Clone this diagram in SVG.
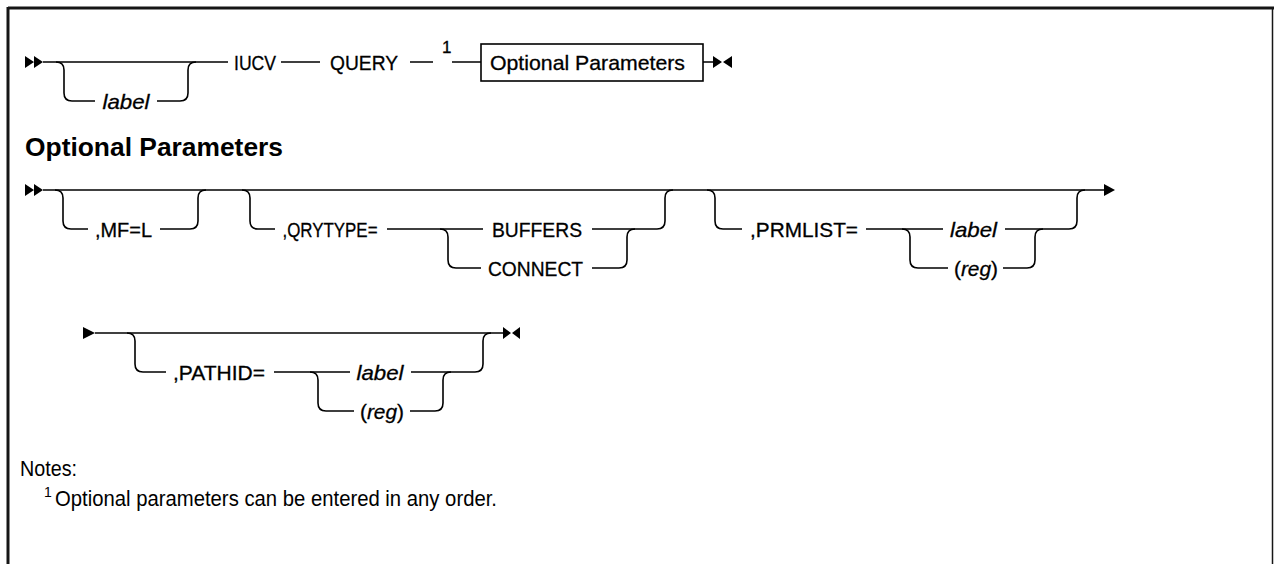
<svg xmlns="http://www.w3.org/2000/svg" width="1274" height="564" viewBox="0 0 1274 564">
<defs>
<style>
.l{fill:none;stroke:#000;stroke-width:1.6}
.a{fill:#000;stroke:none}
.t{font-family:"Liberation Sans",Arial,sans-serif;font-size:21px;fill:#000;stroke:#000;stroke-width:0.3;text-anchor:middle}
.i{font-style:italic}
.h{font-family:"Liberation Sans",Arial,sans-serif;font-size:25px;font-weight:bold;fill:#000}
.n{font-family:"Liberation Sans",Arial,sans-serif;font-size:21.5px;fill:#000}
.s{font-family:"Liberation Sans",Arial,sans-serif;font-size:14px;fill:#000}
.sr{font-family:"Liberation Sans",Arial,sans-serif;font-size:17px;fill:#000;stroke:#000;stroke-width:0.3}
</style>
</defs>
<g id="frame">
<path d="M8,8 H1274" stroke="#161616" stroke-width="3" fill="none"/>
<path d="M8,7 V564" stroke="#161616" stroke-width="3" fill="none"/>
<path d="M1272.5,8 V564" stroke="#161616" stroke-width="1.5" fill="none"/>
</g>
<g id="connectors">
<!-- row 1 -->
<path class="l" d="M43,62 H228 M281,62 H320 M410,62 H433 M452,62 H481 M703,62 H713"/>
<path class="l" d="M56,62 q8,0 8,8 V93 q0,8 8,8 H95 M157,101 H180 q8,0 8,-8 V70 q0,-8 8,-8"/>
<!-- row 2 -->
<path class="l" d="M43,190 H1106"/>
<path class="l" d="M55,190 q8,0 8,8 V221 q0,8 8,8 H88 M160,229 H190 q8,0 8,-8 V198 q0,-8 8,-8"/>
<path class="l" d="M242,190 q8,0 8,8 V221 q0,8 8,8 H275 M387,229 H483 M592,229 H657 q8,0 8,-8 V198 q0,-8 8,-8"/>
<path class="l" d="M440,229 q8,0 8,8 V260 q0,8 8,8 H481 M592,268 H619 q8,0 8,-8 V237 q0,-8 8,-8"/>
<path class="l" d="M707,190 q8,0 8,8 V221 q0,8 8,8 H742 M866,229 H943 M1005,229 H1069 q8,0 8,-8 V198 q0,-8 8,-8"/>
<path class="l" d="M902,229 q8,0 8,8 V260 q0,8 8,8 H948 M1003,268 H1027 q8,0 8,-8 V237 q0,-8 8,-8"/>
<!-- row 3 -->
<path class="l" d="M95,333 H503"/>
<path class="l" d="M127,333 q8,0 8,8 V364 q0,8 8,8 H166 M274,372 H350 M411,372 H475 q8,0 8,-8 V341 q0,-8 8,-8"/>
<path class="l" d="M310,372 q8,0 8,8 V403 q0,8 8,8 H354 M410,411 H435 q8,0 8,-8 V380 q0,-8 8,-8"/>
</g>
<g id="markers">
<path class="a" d="M25,56 L34,62 L25,68 Z M34,56 L43,62 L34,68 Z"/>
<path class="a" d="M713,56 L722,62 L713,68 Z M732,56 L723,62 L732,68 Z"/>
<path class="a" d="M25,184 L34,190 L25,196 Z M34,184 L43,190 L34,196 Z"/>
<path class="a" d="M1104,184 L1115,190 L1104,196 Z"/>
<path class="a" d="M83,327 L95,333 L83,339 Z"/>
<path class="a" d="M503,327 L511,333 L503,339 Z M520,327 L512,333 L520,339 Z"/>
</g>
<g id="n-label1"><text class="t i" x="126" y="108.5" textLength="47" lengthAdjust="spacingAndGlyphs">label</text></g>
<g id="n-iucv"><text class="t" x="255" y="69.5" textLength="42" lengthAdjust="spacingAndGlyphs">IUCV</text></g>
<g id="n-query"><text class="t" x="364" y="69.5" textLength="68" lengthAdjust="spacingAndGlyphs">QUERY</text></g>
<g id="n-note-ref"><text class="sr" x="442" y="53">1</text></g>
<g id="n-optparms">
<rect x="481" y="44" width="222" height="37" fill="#fff" stroke="#000" stroke-width="1.6"/>
<text class="t" x="587.5" y="69.5" textLength="195" lengthAdjust="spacingAndGlyphs">Optional Parameters</text>
</g>
<g id="heading"><text class="h" x="25" y="156" textLength="258" lengthAdjust="spacingAndGlyphs">Optional Parameters</text></g>
<g id="n-mf"><text class="t" x="123.5" y="236.5" textLength="57" lengthAdjust="spacingAndGlyphs">,MF=L</text></g>
<g id="n-qrytype"><text class="t" x="330" y="236.5" textLength="95" lengthAdjust="spacingAndGlyphs">,QRYTYPE=</text></g>
<g id="n-buffers"><text class="t" x="537" y="236.5" textLength="90" lengthAdjust="spacingAndGlyphs">BUFFERS</text></g>
<g id="n-connect"><text class="t" x="535.5" y="275.5" textLength="95" lengthAdjust="spacingAndGlyphs">CONNECT</text></g>
<g id="n-prmlist"><text class="t" x="804" y="236.5" textLength="108" lengthAdjust="spacingAndGlyphs">,PRMLIST=</text></g>
<g id="n-label2"><text class="t i" x="973.5" y="236.5" textLength="47" lengthAdjust="spacingAndGlyphs">label</text></g>
<g id="n-reg2"><text class="t" x="976" y="275.5" textLength="44" lengthAdjust="spacingAndGlyphs">(<tspan class="i">reg</tspan>)</text></g>
<g id="n-pathid"><text class="t" x="219" y="379.5" textLength="92" lengthAdjust="spacingAndGlyphs">,PATHID=</text></g>
<g id="n-label3"><text class="t i" x="380" y="379.5" textLength="47" lengthAdjust="spacingAndGlyphs">label</text></g>
<g id="n-reg3"><text class="t" x="382" y="418.5" textLength="44" lengthAdjust="spacingAndGlyphs">(<tspan class="i">reg</tspan>)</text></g>
<g id="notes">
<text class="n" x="20" y="476" textLength="57" lengthAdjust="spacingAndGlyphs">Notes:</text>
<text class="s" x="44" y="497">1</text>
<text class="n" x="55" y="506" textLength="442" lengthAdjust="spacingAndGlyphs">Optional parameters can be entered in any order.</text>
</g>
</svg>
